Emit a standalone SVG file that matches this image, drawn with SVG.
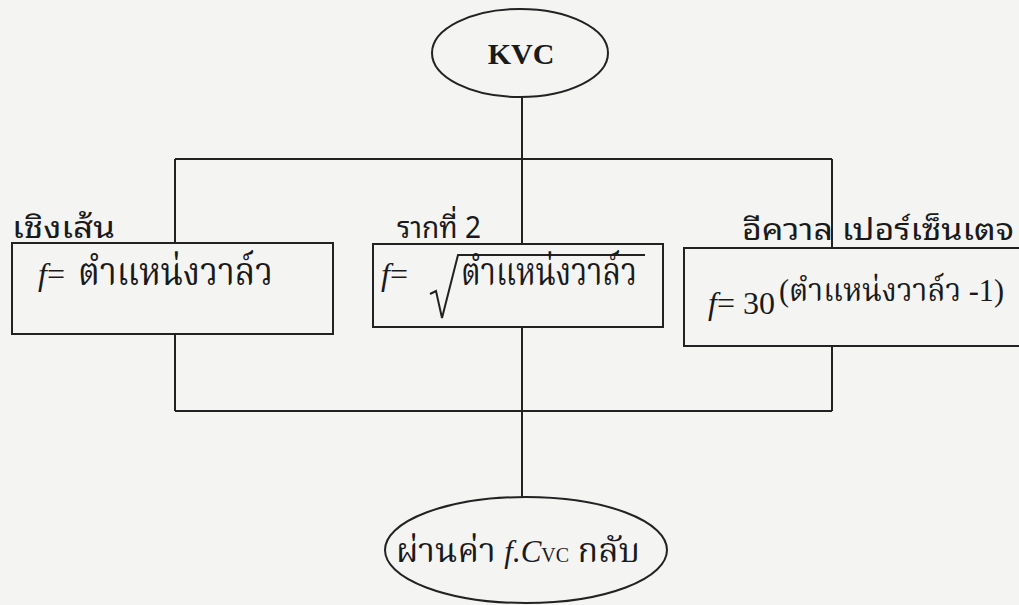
<svg xmlns="http://www.w3.org/2000/svg" width="1019" height="605" viewBox="0 0 1019 605">
<style>
.ln{stroke:#222;stroke-width:2;fill:none}
.bx{stroke:#222;stroke-width:2;fill:none}
.t{font-family:"Liberation Serif","Noto Serif Thai",serif;fill:#1a1a1a}
.lbl{font-family:"Noto Sans Thai Looped","Noto Serif Thai","Liberation Sans",sans-serif;fill:#1a1a1a;font-size:30px}
.it{font-style:italic}
</style>
<rect width="1019" height="605" fill="#f4f4f3"/>
<g id="connectors">
<path class="ln" d="M522 97 V244"/>
<path class="ln" d="M175 159 H832"/>
<path class="ln" d="M175 159 V243"/>
<path class="ln" d="M832 159 V248"/>
<path class="ln" d="M175 334 V411"/>
<path class="ln" d="M832 346 V411"/>
<path class="ln" d="M175 411 H832"/>
<path class="ln" d="M522 327 V498"/>
</g>
<g id="kvc">
<ellipse class="bx" cx="520" cy="53" rx="88" ry="44"/>
<text class="t" x="521" y="64" font-size="30" font-weight="bold" text-anchor="middle">KVC</text>
</g>
<g id="linear">
<text class="lbl" x="12" y="238" textLength="103" lengthAdjust="spacingAndGlyphs">เชิงเส้น</text>
<rect class="bx" x="12" y="243" width="321" height="91"/>
<text class="t" x="38" y="285" font-size="32"><tspan class="it">f</tspan>=</text>
<text class="t" x="78" y="285" font-size="40" textLength="195" lengthAdjust="spacingAndGlyphs">ตำแหน่งวาล์ว</text>
</g>
<g id="sqrt">
<text class="lbl" x="397" y="238" textLength="84" lengthAdjust="spacingAndGlyphs">รากที่ 2</text>
<rect class="bx" x="373" y="244" width="290" height="83"/>
<text class="t" x="381" y="285" font-size="32"><tspan class="it">f</tspan>=</text>
<path class="ln" d="M430 294 L436 291 L442 318 L458 255 H645" stroke-width="1.6"/>
<text class="t" x="461" y="285" font-size="40" textLength="176" lengthAdjust="spacingAndGlyphs">ตำแหน่งวาล์ว</text>
</g>
<g id="equal">
<text class="lbl" x="742" y="240" textLength="272" lengthAdjust="spacingAndGlyphs">อีควาล  เปอร์เซ็นเตจ</text>
<rect class="bx" x="684" y="248" width="345" height="98"/>
<text class="t" x="708" y="314" font-size="32"><tspan class="it">f</tspan>= 30</text>
<text class="t" x="779" y="301" font-size="32" textLength="225" lengthAdjust="spacingAndGlyphs">(ตำแหน่งวาล์ว -1)</text>
</g>
<g id="return">
<ellipse class="bx" cx="526" cy="550" rx="141" ry="53"/>
<text class="t" x="396" y="562" font-size="34">ผ่านค่า <tspan class="it" font-size="31">f.C</tspan><tspan font-size="20">VC</tspan> กลับ</text>
</g>
</svg>
